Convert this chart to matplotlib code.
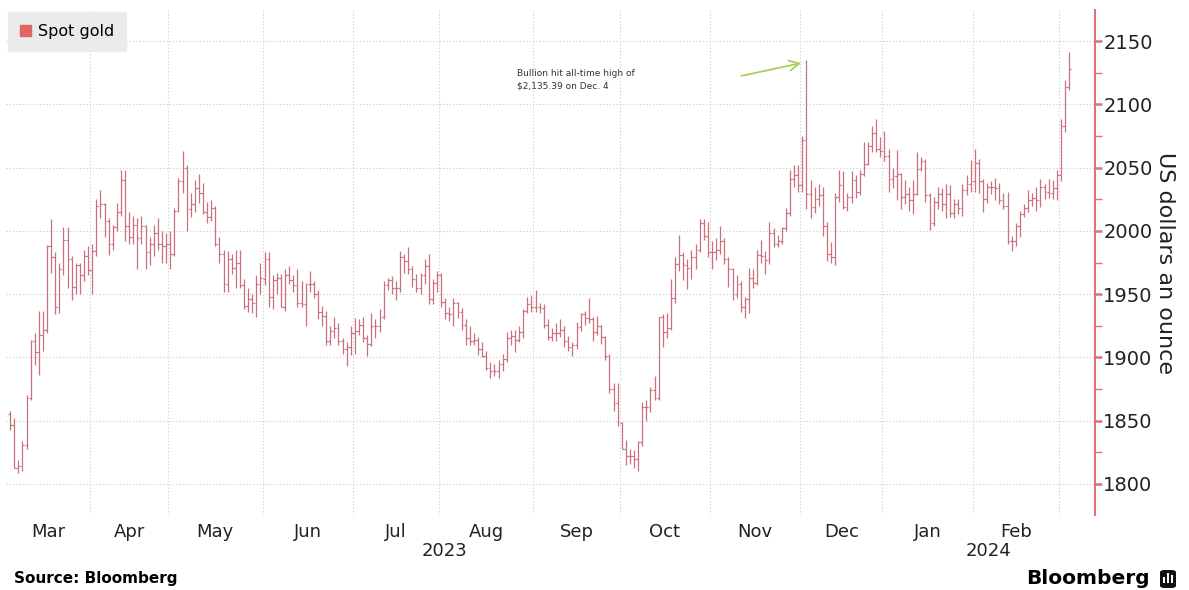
import numpy as np
import pandas as pd
import matplotlib
matplotlib.use('Agg')
import matplotlib.pyplot as plt
from matplotlib.patches import Patch, FancyBboxPatch, Rectangle
from matplotlib.transforms import blended_transform_factory

plt.rcParams['font.family'] = ['DejaVu Sans']

# trading days on the chart (spot gold, daily bars)
days = pd.bdate_range('2023-03-06', '2024-03-05')
days = days.drop(pd.to_datetime(['2023-04-07', '2023-12-25', '2024-01-01']))

# one line per month: Mar23 ... Feb24, Mar24
opens = [
    1855, 1847, 1813, 1814, 1831, 1868, 1913, 1904, 1918, 1922, 1988, 1979, 1940, 1970, 1993, 1978, 1956, 1973, 1965, 1980,
    1969, 1984, 2020, 2021, 2008, 1990, 2003, 2015, 2040, 2004, 1995, 2005, 1994, 2004, 1983, 1990, 1998, 1990, 1988,
    1990, 1982, 2016, 2039, 2050, 2017, 2021, 2034, 2030, 2015, 2011, 2018, 1990, 1982, 1958, 1978, 1971, 1975, 1957, 1941, 1946, 1943, 1958,
    1962, 1978, 1948, 1961, 1963, 1940, 1965, 1961, 1957, 1943, 1942, 1958, 1958, 1950, 1936, 1933, 1913, 1921, 1923, 1913, 1907, 1908,
    1919, 1921, 1926, 1915, 1911, 1925, 1925, 1932, 1957, 1961, 1955, 1955, 1979, 1976, 1970, 1962, 1955, 1965, 1972, 1946, 1959,
    1965, 1944, 1935, 1934, 1943, 1936, 1926, 1915, 1913, 1914, 1907, 1901, 1892, 1889, 1889, 1895, 1899, 1915, 1917, 1914, 1920, 1937, 1942,
    1940, 1940, 1939, 1926, 1916, 1919, 1919, 1922, 1913, 1908, 1910, 1924, 1934, 1931, 1930, 1920, 1925, 1916, 1901, 1875, 1864,
    1848, 1828, 1822, 1822, 1820, 1833, 1861, 1861, 1874, 1868, 1932, 1920, 1923, 1947, 1974, 1981, 1973, 1971, 1979, 1985, 2006, 1996,
    1983, 1983, 1985, 1992, 1978, 1970, 1950, 1958, 1940, 1946, 1963, 1959, 1981, 1980, 1977, 1998, 1990, 1992, 2002, 2014, 2041, 2044,
    2036, 2072, 2029, 2019, 2025, 2028, 2004, 1982, 1979, 2027, 2036, 2019, 2027, 2040, 2031, 2045, 2053, 2067, 2077, 2065,
    2063, 2059, 2041, 2043, 2045, 2027, 2029, 2024, 2029, 2049, 2055, 2028, 2006, 2023, 2029, 2021, 2029, 2014, 2021, 2018, 2032, 2037,
    2039, 2054, 2039, 2025, 2035, 2035, 2034, 2024, 2020, 1992, 1992, 2004, 2013, 2018, 2024, 2026, 2024, 2035, 2031, 2030, 2034,
    2044, 2083, 2114,
]
highs = [
    1858, 1852, 1819, 1834, 1870, 1914, 1919, 1937, 1937, 1989, 2009, 1983, 1975, 2003, 2003, 1980, 1975, 1975, 1985, 1988,
    1990, 2025, 2032, 2022, 2010, 2005, 2022, 2048, 2048, 2015, 2012, 2010, 2012, 2005, 1995, 2005, 2010, 2000, 1998,
    2000, 2018, 2042, 2063, 2052, 2030, 2040, 2045, 2038, 2023, 2024, 2020, 1995, 1985, 1984, 1982, 1985, 1985, 1962, 1955, 1950, 1965, 1975,
    1983, 1983, 1965, 1967, 1966, 1970, 1972, 1965, 1970, 1960, 1959, 1968, 1960, 1953, 1941, 1937, 1925, 1932, 1927, 1915, 1912, 1925,
    1931, 1930, 1932, 1918, 1935, 1930, 1938, 1960, 1963, 1964, 1960, 1984, 1982, 1987, 1972, 1966, 1967, 1978, 1982, 1962, 1968,
    1967, 1947, 1940, 1947, 1944, 1939, 1930, 1925, 1919, 1916, 1912, 1905, 1896, 1895, 1898, 1903, 1920, 1922, 1922, 1925, 1938, 1948, 1949,
    1953, 1943, 1942, 1930, 1923, 1927, 1930, 1925, 1917, 1912, 1928, 1935, 1937, 1947, 1932, 1933, 1926, 1917, 1903, 1880, 1880,
    1849, 1835, 1828, 1827, 1834, 1865, 1866, 1877, 1885, 1932, 1934, 1935, 1962, 1979, 1997, 1983, 1978, 1985, 1990, 2009, 2009, 2007,
    1992, 1994, 2004, 1994, 1979, 1971, 1965, 1960, 1948, 1971, 1970, 1985, 1993, 1984, 2007, 2002, 1997, 2003, 2018, 2048, 2052, 2052,
    2075, 2135, 2040, 2035, 2037, 2035, 2007, 1991, 2030, 2048, 2047, 2030, 2047, 2044, 2048, 2070, 2070, 2083, 2088, 2074,
    2079, 2065, 2050, 2064, 2046, 2040, 2035, 2040, 2062, 2058, 2057, 2030, 2027, 2035, 2034, 2037, 2036, 2025, 2025, 2037, 2044, 2056,
    2065, 2057, 2041, 2038, 2039, 2042, 2038, 2030, 2031, 1996, 2006, 2016, 2021, 2032, 2030, 2035, 2041, 2037, 2041, 2040, 2048,
    2088, 2119, 2141,
]
lows = [
    1843, 1813, 1809, 1810, 1828, 1866, 1894, 1886, 1905, 1919, 1967, 1934, 1935, 1965, 1955, 1945, 1950, 1950, 1960, 1965,
    1950, 1980, 2010, 1995, 1981, 1985, 2000, 2012, 1992, 1990, 1990, 1970, 1990, 1970, 1973, 1980, 1985, 1975, 1975,
    1970, 1980, 2015, 2030, 2000, 2011, 2015, 2022, 2013, 2006, 2008, 1988, 1975, 1952, 1952, 1966, 1955, 1955, 1938, 1936, 1935, 1932, 1950,
    1957, 1940, 1938, 1950, 1940, 1937, 1958, 1952, 1940, 1940, 1925, 1952, 1947, 1930, 1925, 1910, 1910, 1915, 1910, 1903, 1893, 1902,
    1903, 1918, 1912, 1901, 1909, 1915, 1920, 1930, 1953, 1950, 1945, 1952, 1967, 1966, 1956, 1952, 1950, 1958, 1942, 1942, 1952,
    1940, 1930, 1929, 1925, 1931, 1922, 1910, 1910, 1910, 1902, 1900, 1890, 1884, 1885, 1884, 1889, 1896, 1910, 1904, 1912, 1915, 1935, 1936,
    1936, 1935, 1923, 1914, 1913, 1913, 1916, 1908, 1905, 1901, 1907, 1921, 1926, 1927, 1913, 1918, 1911, 1898, 1872, 1858, 1846,
    1828, 1815, 1816, 1813, 1810, 1830, 1850, 1857, 1866, 1866, 1908, 1915, 1922, 1943, 1968, 1961, 1954, 1962, 1970, 1983, 1993, 1979,
    1970, 1977, 1982, 1974, 1956, 1945, 1947, 1936, 1931, 1935, 1955, 1957, 1975, 1966, 1974, 1987, 1987, 1990, 2000, 2012, 2035, 2031,
    2031, 2017, 2010, 2014, 2020, 1996, 1976, 1975, 1973, 2023, 2017, 2016, 2022, 2026, 2028, 2043, 2052, 2062, 2062, 2058,
    2055, 2031, 2034, 2024, 2017, 2021, 2016, 2013, 2028, 2047, 2023, 2001, 2004, 2017, 2016, 2010, 2011, 2010, 2013, 2012, 2028, 2031,
    2031, 2030, 2015, 2022, 2029, 2024, 2021, 2017, 1990, 1984, 1988, 1995, 2011, 2015, 2020, 2016, 2019, 2025, 2026, 2025, 2024,
    2039, 2078, 2111,
]
closes = [
    1847, 1813, 1814, 1831, 1868, 1913, 1904, 1918, 1922, 1988, 1979, 1940, 1970, 1993, 1978, 1956, 1973, 1965, 1980, 1969,
    1984, 2020, 2021, 2008, 1990, 2003, 2015, 2040, 2004, 1995, 2005, 1994, 2004, 1983, 1990, 1998, 1990, 1988, 1990,
    1982, 2016, 2039, 2050, 2017, 2021, 2034, 2030, 2015, 2011, 2018, 1990, 1982, 1958, 1978, 1971, 1975, 1957, 1941, 1946, 1943, 1958, 1963,
    1978, 1948, 1961, 1963, 1940, 1965, 1961, 1957, 1943, 1942, 1958, 1958, 1950, 1936, 1933, 1913, 1921, 1923, 1913, 1907, 1908, 1919,
    1921, 1926, 1915, 1911, 1925, 1925, 1932, 1957, 1961, 1955, 1955, 1979, 1976, 1970, 1962, 1955, 1965, 1972, 1946, 1959, 1965,
    1944, 1935, 1934, 1943, 1936, 1926, 1915, 1913, 1914, 1907, 1901, 1892, 1889, 1889, 1895, 1899, 1915, 1917, 1914, 1920, 1937, 1942, 1940,
    1940, 1939, 1926, 1916, 1919, 1919, 1922, 1913, 1908, 1910, 1924, 1934, 1931, 1930, 1920, 1925, 1916, 1901, 1875, 1864, 1849,
    1828, 1822, 1822, 1820, 1833, 1861, 1861, 1874, 1868, 1932, 1920, 1923, 1947, 1974, 1981, 1973, 1971, 1979, 1985, 2006, 1996, 1983,
    1983, 1985, 1992, 1978, 1970, 1950, 1958, 1940, 1946, 1963, 1959, 1981, 1980, 1977, 1998, 1990, 1992, 2002, 2014, 2041, 2044, 2036,
    2072, 2029, 2019, 2025, 2028, 2004, 1982, 1979, 2027, 2036, 2019, 2027, 2040, 2031, 2045, 2053, 2067, 2077, 2065, 2063,
    2059, 2041, 2043, 2045, 2027, 2029, 2024, 2029, 2049, 2055, 2028, 2006, 2023, 2029, 2021, 2029, 2014, 2021, 2018, 2032, 2037, 2039,
    2054, 2039, 2025, 2035, 2035, 2034, 2024, 2020, 1992, 1992, 2004, 2013, 2018, 2024, 2026, 2024, 2035, 2031, 2030, 2034, 2044,
    2083, 2114, 2128,
]
yticks = [1800, 1850, 1900, 1950, 2000, 2050, 2100, 2150]
ath_date = '2023-12-04'
ath_label = "Bullion hit all-time high of\n$2,135.39 on Dec. 4"

bar_color = "#c9727e"
axis_red = "#e0707a"
grid_color = "#c9c9c9"

n = len(days)
x = np.arange(n)

fig = plt.figure(figsize=(11.89, 5.90), dpi=100)
W, H = 1189.0, 590.0
ax = fig.add_axes([6 / W, 1 - 515 / H, (1095 - 6) / W, (515 - 10) / H])

# OHLC bars
ax.vlines(x, lows, highs, color=bar_color, lw=0.9)
ax.hlines(opens, x - 0.45, x, color=bar_color, lw=0.9)
ax.hlines(closes, x, x + 0.45, color=bar_color, lw=0.9)

xmin, xmax = -1.0, 264.3
ax.set_xlim(xmin, xmax)
ax.set_ylim(1775.5, 2174.5)

# month boundaries and labels
months = days.to_period('M')
starts = [0] + [i for i in range(1, n) if months[i] != months[i - 1]]
bounds = [s - 0.5 for s in starts[1:]]
edges = [xmin] + bounds + [xmax]
centers = [(edges[i] + edges[i + 1]) / 2 for i in range(len(starts) - 1)]
labels = [days[s].strftime('%b') for s in starts[:-1]]

ax.set_xticks(centers)
ax.set_xticklabels(labels, fontsize=13, color="#222222")
ax.set_xticks(bounds, minor=True)
ax.tick_params(axis='x', which='major', length=0, pad=6)
ax.tick_params(axis='x', which='minor', length=0)
ax.grid(which='minor', axis='x', linestyle=(0, (1, 2)), color=grid_color, lw=0.8)

# year labels
trans = blended_transform_factory(ax.transData, ax.transAxes)
jan = [b for b, s in zip(bounds, starts[1:]) if days[s].month == 1][0]
ax.text((xmin + jan) / 2, -0.072, "2023", transform=trans, ha='center', va='center', fontsize=13, color="#222222")
ax.text((jan + xmax) / 2, -0.072, "2024", transform=trans, ha='center', va='center', fontsize=13, color="#222222")

# right value axis
ax.yaxis.tick_right()
ax.set_yticks(yticks)
ax.set_yticks([v + 25 for v in yticks[:-1]], minor=True)
ax.tick_params(axis='y', which='major', length=5, width=1.8, color=axis_red, labelsize=14, labelcolor="#222222", pad=1)
ax.tick_params(axis='y', which='minor', length=5, width=1.0, color=axis_red)
ax.grid(which='major', axis='y', linestyle=(0, (1, 2)), color=grid_color, lw=0.8)
ax.yaxis.set_label_position('right')
ax.set_ylabel("US dollars an ounce", rotation=270, fontsize=16, labelpad=16, color="#222222")

for s in ['left', 'top', 'bottom']:
    ax.spines[s].set_visible(False)
ax.spines['right'].set_color(axis_red)
ax.spines['right'].set_linewidth(1.5)

# legend
leg = ax.legend(handles=[Patch(color="#e06666", label="Spot gold")], loc='upper left',
                bbox_to_anchor=(8 / W, 1 - 12 / H), bbox_transform=fig.transFigure, borderaxespad=0,
                fontsize=11.5, handlelength=0.7, handleheight=0.7, handletextpad=0.4,
                borderpad=0.75, frameon=True, fancybox=False, framealpha=1)
leg.get_frame().set_facecolor("#ebebeb")
leg.get_frame().set_edgecolor("#ebebeb")

# all-time-high annotation
i_ath = days.get_loc(pd.Timestamp(ath_date))
ax.text(123.5, 2119, ath_label, fontsize=6.5, color="#333333", va='center', ha='left', linespacing=1.5)
ax.annotate("", xy=(x[i_ath] - 0.6, highs[i_ath] - 2), xytext=(177.5, 2122),
            arrowprops=dict(arrowstyle='->', color="#a8d05c", lw=1.3, mutation_scale=18))

# footer
fig.text(14 / W, 1 - 578 / H, "Source: Bloomberg", fontsize=11, fontweight='bold', va='center', ha='left')
fig.text(1150 / W, 1 - 578 / H, "Bloomberg", fontsize=14.5, fontweight='bold', va='center', ha='right')
icon = FancyBboxPatch((1160 / W, 1 - 588 / H), 16 / W, 18 / H, boxstyle="round,pad=0,rounding_size=0.004",
                      transform=fig.transFigure, facecolor="#111111", edgecolor="none")
fig.patches.append(icon)
for k, hgt in enumerate([6, 10, 8]):
    fig.patches.append(Rectangle(((1163 + 4 * k) / W, 1 - 583 / H), 2 / W, hgt / H,
                                 transform=fig.transFigure, facecolor="white", edgecolor="none"))

fig.savefig("out.png", dpi=100)
